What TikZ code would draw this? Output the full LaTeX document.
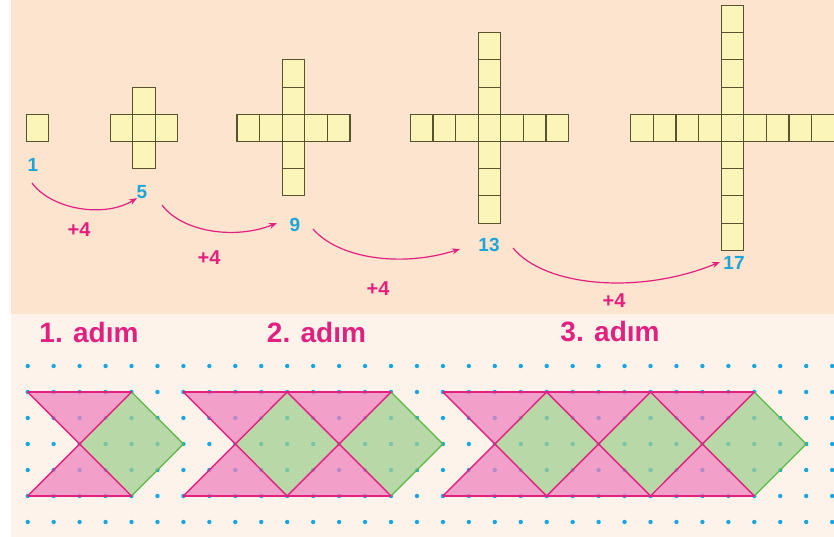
\documentclass[tikz,border=0pt]{standalone}
\usepackage{fontspec}
\setmainfont{Liberation Sans}
\usetikzlibrary{arrows.meta}
\definecolor{peach}{HTML}{FCE4CF}
\definecolor{cream}{HTML}{FDF3EA}
\definecolor{sqfill}{HTML}{FBF5B9}
\definecolor{sqline}{HTML}{57532F}
\definecolor{numcyan}{HTML}{1DA5D8}
\definecolor{mag}{HTML}{E2207F}
\definecolor{pinkfill}{HTML}{EE80BE}
\definecolor{greenfill}{HTML}{9ED08E}
\definecolor{greenline}{HTML}{5CB848}
\definecolor{dotcyan}{HTML}{18A6E2}
\tikzset{
  sq/.style={draw=sqline, fill=sqfill, line width=1.1pt},
  numlbl/.style={text=numcyan, font=\fontsize{19}{19}\selectfont\bfseries, inner sep=0pt},
  pluslbl/.style={text=mag, font=\fontsize{20}{20}\selectfont\bfseries, inner sep=0pt},
  steplbl/.style={text=mag, font=\fontsize{28}{28}\selectfont\bfseries, inner sep=0pt},
  arr/.style={draw=mag, line width=1.2pt, -{Stealth[length=8pt,width=6pt]}},
  pinkarea/.style={fill=pinkfill, fill opacity=.72},
  greenarea/.style={fill=greenfill, fill opacity=.72},
  pinkedge/.style={draw=mag, line width=1.4pt, line join=round},
  greenedge/.style={draw=greenline, line width=1.3pt, line join=round}
}
\begin{document}
\begin{tikzpicture}[x=1pt,y=-1pt]
\useasboundingbox (0,0) rectangle (834,537);
\fill[white] (0,0) rectangle (834,537);
\fill[peach] (11,0) rectangle (834,314);
\fill[cream] (11,314) rectangle (834,537);

% crosses
\foreach \cx/\a in {37.5/0, 144/1, 293.5/2, 489.5/3, 732.5/4} {
  \pgfmathtruncatemacro\nn{2*\a}
  \foreach \i in {0,...,\nn} {
    \pgfmathsetmacro\xx{\cx-11.3-22.6*\a+22.6*\i}
    \draw[sq] (\xx,114.3) rectangle ++(22.6,27.2);
  }
  \foreach \j in {0,...,\nn} {
    \pgfmathsetmacro\yy{114.3-27.2*\a+27.2*\j}
    \draw[sq] (\cx-11.3,\yy) rectangle ++(22.6,27.2);
  }
}

% numbers
\node[numlbl] (n1) at (33,165) {1};
\node[numlbl] (n5) at (142,192) {5};
\node[numlbl] (n9) at (295,225) {9};
\node[numlbl] (n13) at (489,245) {13};
\node[numlbl] (n17) at (734,263) {17};

% arrows
\coordinate (a1s) at (32,183);  \coordinate (a1e) at (137,198);
\coordinate (a2s) at (162,205); \coordinate (a2e) at (277,223);
\coordinate (a3s) at (313,229); \coordinate (a3e) at (460,249);
\coordinate (a4s) at (513,248); \coordinate (a4e) at (720,262);
\draw[arr] (a1s) .. controls (52,210) and (105,218) .. (a1e);
\draw[arr] (a2s) .. controls (182,232) and (235,240) .. (a2e);
\draw[arr] (a3s) .. controls (338,258) and (400,268) .. (a3e);
\draw[arr] (a4s) .. controls (545,287) and (640,295) .. (a4e);

\node[pluslbl] (p1) at (79,230) {+4};
\node[pluslbl] (p2) at (209,258) {+4};
\node[pluslbl] (p3) at (378,289) {+4};
\node[pluslbl] (p4) at (614,301) {+4};

% step labels
\node[steplbl] (s1) at (89,332) {1. adım};
\node[steplbl] (s2) at (316.5,332) {2. adım};
\node[steplbl] (s3) at (610,332) {3. adım};

% dot grid
\foreach \k in {0,...,31} {
  \foreach \j in {0,...,6} {
    \fill[dotcyan] (27.7+25.95*\k, 366+26*\j) circle (2.2);
  }
}

% patterns
\begin{scope}[xshift=27.7pt, yshift=-366pt, x=25.95pt, y=-26pt]
\foreach \s/\n in {0/1, 6/2, 16/3} {
  \pgfmathtruncatemacro\last{\n-1}
  \foreach \i in {0,...,\last} {
    \pgfmathsetmacro\aa{\s+4*\i}
    \fill[pinkarea] (\aa,1) -- (\aa+4,1) -- (\aa+2,3) -- cycle;
    \fill[pinkarea] (\aa,5) -- (\aa+4,5) -- (\aa+2,3) -- cycle;
    \fill[greenarea] (\aa+2,3) -- (\aa+4,1) -- (\aa+6,3) -- (\aa+4,5) -- cycle;
  }
  \pgfmathsetmacro\ee{\s+4*\n}
  \draw[greenedge] (\ee,1) -- (\ee+2,3) -- (\ee,5);
  \draw[pinkedge] (\s,1) -- (\ee,1);
  \draw[pinkedge] (\s,5) -- (\ee,5);
  \foreach \i in {0,...,\last} {
    \pgfmathsetmacro\aa{\s+4*\i}
    \draw[pinkedge] (\aa,1) -- (\aa+4,5);
    \draw[pinkedge] (\aa,5) -- (\aa+4,1);
  }
}
\end{scope}
\end{tikzpicture}
\end{document}
